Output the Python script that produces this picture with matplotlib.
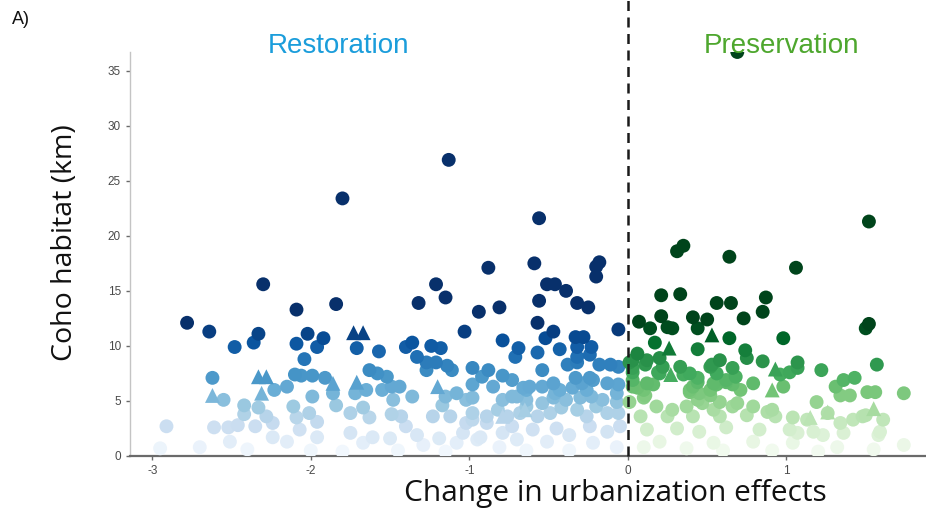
import matplotlib
matplotlib.use("Agg")
import matplotlib.pyplot as plt
import numpy as np
from matplotlib.colors import Normalize

# ---------------- data ----------------
resto_circle_x = [-1.13, -1.80, -0.56, -0.88, -0.59, -0.18, -0.20, -0.20, -2.30, -1.21, -1.15, -0.51, -0.46, -0.39, -0.56, -0.32, -0.25,
    -2.78, -2.64, -2.48, -2.33, -2.36, -2.09, -2.02, -1.92, -1.96, -2.09, -2.04,
    -1.84, -1.32, -0.94, -0.81,
    -1.71, -1.57, -1.40, -1.36, -1.33, -1.24, -1.18, -1.27, -1.27, -1.21, -1.14, -1.11, -1.03, -0.79, -0.69, -0.71,
    -0.98, -0.88, -0.92, -0.98, -0.85, -0.79, -0.73,
    -1.63, -1.58, -1.52, -1.44, -1.86, -1.72, -1.65, -1.55, -1.49, -1.36, -1.48, -1.15, -1.08, -1.02, -0.98, -1.17, -0.79, -0.70, -0.64,
    -1.84, -1.75, -1.67, -1.63, -1.49, -1.43, -1.40, -1.23, -1.12, -0.98, -0.89, -0.68,
    -1.75, -1.61, -1.50, -1.33, -1.19, -1.04, -0.93, -0.79, -0.70, -1.67, -1.29, -1.08,
    -2.62, -2.10, -2.06, -1.99, -1.91, -2.55, -2.23, -2.15, -1.99, -2.11, -2.42, -2.33, -2.42, -2.28, -2.24, -2.91, -2.61, -2.52, -2.46, -2.35, -2.51, -2.95, -2.09, -2.01, -1.96, -2.07, -1.96, -2.15, -2.24,
    -0.57, -0.06, -0.52, -0.47, -0.43, -0.33, -0.28, -0.32, -0.23, -0.57, -0.54, -0.38, -0.32, -0.18, -0.11, -0.06, -0.24, -0.32,
    -0.66, -0.62, -0.54, -0.47, -0.43, -0.33, -0.29, -0.26, -0.22, -0.13, -0.06, -0.35, -0.24, -0.46,
    -0.73, -0.64, -0.54, -0.47, -0.39, -0.30, -0.23, -0.16, -0.07, -0.07,
    -0.98, -0.82, -0.76, -0.64, -0.57, -0.49, -0.42, -0.32, -0.26, -0.20, -0.13, -0.06,
    -1.02, -0.89, -0.73, -0.60, -0.45, -0.37, -0.24, -0.13, -0.05,
    -0.95, -0.51, -0.22, -0.81, -0.07, -0.64, -0.37,
    -2.70, -2.40, -2.00, -1.80, -1.45, -1.15]
resto_circle_y = [26.9, 23.4, 21.6, 17.1, 17.5, 17.6, 17.2, 16.3, 15.6, 15.6, 14.4, 15.6, 15.6, 15.0, 14.1, 13.9, 13.5,
    12.1, 11.3, 9.9, 11.1, 10.3, 13.3, 11.1, 10.7, 9.9, 10.2, 8.8,
    13.8, 13.9, 13.1, 13.5,
    9.8, 9.5, 9.9, 10.3, 9.0, 10.0, 9.8, 8.5, 7.8, 8.5, 8.2, 7.8, 11.3, 10.5, 9.8, 9.0,
    8.0, 7.8, 7.2, 6.5, 6.3, 7.3, 6.9,
    7.8, 7.5, 7.2, 6.3, 5.7, 5.7, 6.0, 6.0, 6.3, 5.4, 5.1, 5.4, 5.7, 5.1, 5.3, 4.6, 5.1, 5.4, 6.0,
    4.6, 3.9, 4.4, 3.5, 3.8, 3.6, 2.7, 3.6, 3.6, 3.3, 3.6, 3.9,
    2.1, 1.7, 1.6, 1.9, 1.6, 2.1, 1.7, 2.1, 1.5, 1.2, 1.0, 1.2,
    7.1, 7.4, 7.3, 7.3, 7.1, 5.1, 6.0, 6.3, 5.4, 4.5, 4.6, 4.4, 3.8, 3.6, 3.0, 2.7, 2.6, 2.6, 2.8, 2.7, 1.3, 0.7, 3.5, 3.9, 3.1, 2.4, 1.7, 1.3, 1.7,
    12.1, 11.5, 10.7, 11.3, 9.7, 10.8, 10.8, 9.9, 9.9, 9.4, 7.8, 8.3, 9.0, 8.3, 8.3, 8.1, 9.2, 8.5,
    6.2, 6.3, 6.3, 6.6, 6.0, 7.1, 6.6, 6.0, 6.9, 6.6, 6.5, 6.2, 7.1, 5.7,
    5.4, 5.1, 4.8, 5.3, 5.1, 5.3, 5.4, 5.1, 5.7, 4.9,
    3.9, 4.2, 3.6, 4.5, 3.6, 3.9, 4.4, 4.2, 3.6, 4.5, 3.9, 3.9,
    3.0, 3.0, 2.7, 2.4, 2.5, 1.9, 2.7, 2.2, 2.7,
    1.5, 1.3, 1.2, 0.8, 0.8, 0.5, 0.5,
    0.8, 0.6, 0.5, 0.4, 0.5, 0.4]

resto_tri_x = [-2.33, -2.28, -2.62, -2.31, -1.73, -1.67, -1.86, -1.71, -1.20, -0.79, -0.65]
resto_tri_y = [7.2, 7.2, 5.5, 5.7, 11.2, 11.2, 6.6, 6.7, 6.3, 3.6, 4.2]

pres_circle_x = [0.69, 1.52, 0.31, 0.35, 0.64, 1.06, 0.21, 0.33, 0.87,
    0.07, 0.14, 0.21, 0.25, 0.28, 0.41, 0.44, 0.50, 0.56, 0.65, 0.73, 0.85, 0.64, 0.98, 1.50, 1.52,
    0.17, 0.06, 0.20, 0.44, 0.74, 0.75, 0.85, 1.07, 1.07, 1.22, 1.57, 0.03, 0.03, 0.11, 0.22, 0.33, 0.20, 0.39, 0.52, 0.56, 0.66, 0.68, 0.96, 1.02,
    0.03, 0.12, 0.44, 0.54, 0.62, 0.79, 1.36, 1.43, 1.31, 1.40, 1.51, 1.56, 1.74, 0.06, 0.11, 0.39, 0.45, 0.52, 0.66, 0.71, 0.98, 1.19, 1.50,
    0.18, 0.28, 0.37, 0.47, 0.54, 0.66, 0.79, 0.91, 1.04, 0.08, 0.25, 0.41, 0.58, 0.75, 1.13, 1.34, 1.42, 1.61, 1.59,
    0.12, 0.31, 0.45, 0.62, 0.83, 1.02, 1.17, 1.36, 0.20, 0.54, 0.79, 1.04, 1.32, 1.74, 0.37, 0.91,
    0.69, 0.88, 0.93, 1.26, 1.48, 1.07, 1.23, 1.58,
    0.01, 0.12, 0.53, 0.58, 0.03, 0.19, 0.35, 0.44, 0.03, 0.10, 0.16, 0.41, 0.56, 0.62, 0.01, 0.10, 0.39, 0.44, 0.52, 0.58, 1.34,
    0.10, 0.60, 1.20, 1.55]
pres_circle_y = [36.7, 21.3, 18.6, 19.1, 18.1, 17.1, 14.6, 14.7, 14.4,
    12.2, 11.6, 12.7, 11.7, 11.6, 12.6, 11.6, 12.4, 13.9, 13.9, 12.5, 13.1, 10.7, 10.7, 11.6, 12.0,
    10.3, 9.3, 8.9, 9.7, 9.6, 8.9, 8.6, 8.5, 8.0, 7.8, 8.3, 8.7, 8.0, 8.3, 8.1, 8.1, 7.5, 7.5, 8.1, 7.5, 8.0, 7.2, 7.4, 7.6,
    6.9, 6.6, 6.7, 6.6, 6.7, 6.6, 6.9, 7.1, 6.3, 5.5, 5.8, 5.8, 5.7, 6.2, 5.5, 6.0, 5.7, 6.0, 6.5, 6.0, 6.3, 4.9, 3.7,
    4.5, 4.2, 4.5, 4.8, 4.2, 4.5, 4.5, 4.2, 3.5, 3.6, 3.6, 3.6, 3.6, 3.7, 3.3, 3.0, 3.3, 3.3, 2.2,
    2.4, 2.5, 2.2, 2.6, 2.4, 2.4, 2.2, 2.1, 1.3, 1.2, 1.3, 1.2, 0.8, 1.0, 0.7, 0.5,
    4.8, 4.0, 3.6, 3.9, 3.6, 2.1, 1.9, 1.9,
    8.5, 8.7, 8.3, 8.7, 7.6, 7.6, 7.4, 7.1, 6.3, 6.0, 6.5, 6.3, 6.5, 6.9, 4.9, 5.3, 5.8, 5.1, 5.5, 4.9, 5.5,
    0.8, 0.5, 0.4, 0.6]

pres_tri_x = [0.53, 0.26, 0.27, 0.93, 0.91, 1.26, 1.55, 1.15]
pres_tri_y = [11.0, 9.8, 7.4, 7.9, 6.0, 4.0, 4.3, 3.5]

x_ticks = [-3, -2, -1, 0, 1]
y_ticks = [0, 5, 10, 15, 20, 25, 30, 35]

# ---------------- figure ----------------
fig = plt.figure(figsize=(9.26, 5.16), dpi=100)
ax = fig.add_axes([130 / 926, 1 - 456 / 516, 1 - 130 / 926, (456 - 52) / 516])

norm = Normalize(vmin=0, vmax=12, clip=True)
ms = 100


def draw(xs, ys, cmap, marker):
    xs = np.asarray(xs, float)
    ys = np.asarray(ys, float)
    order = np.argsort(ys)
    ax.scatter(xs[order], ys[order], c=ys[order], cmap=cmap, norm=norm,
               s=ms * (1.15 if marker == '^' else 1.0), marker=marker,
               linewidths=0, zorder=3)


draw(resto_circle_x, resto_circle_y, 'Blues', 'o')
draw(resto_tri_x, resto_tri_y, 'Blues', '^')
draw(pres_circle_x, pres_circle_y, 'Greens', 'o')
draw(pres_tri_x, pres_tri_y, 'Greens', '^')

ax.set_xlim(-3.14, 1.88)
ax.set_ylim(0, 36.7)
ax.set_xticks(x_ticks)
ax.set_yticks(y_ticks)
ax.set_xticklabels([str(t) for t in x_ticks])
ax.set_yticklabels([str(t) for t in y_ticks])

for side in ['top', 'right']:
    ax.spines[side].set_visible(False)
ax.spines['left'].set_color('#c4c4c4')
ax.spines['left'].set_linewidth(1.0)
ax.spines['bottom'].set_color('#6a6a6a')
ax.spines['bottom'].set_linewidth(1.6)
ax.tick_params(axis='both', labelsize=8.5, labelcolor='#4a4a4a', color='#6a6a6a',
               length=3, width=1)
for lab in ax.get_xticklabels() + ax.get_yticklabels():
    lab.set_family('Liberation Sans')

# dashed vertical line at 0, extending above the plot
ax.axvline(0, ymin=0, ymax=1 + 52 / 404, color='#1a1a1a', linestyle=(0, (4, 2.6)),
           linewidth=1.8, clip_on=False, zorder=5)

# texts
fig.text(338 / 926, 1 - 46 / 516, 'Restoration', color='#1b9ddb', fontsize=20,
         family='Liberation Sans', ha='center', va='center')
fig.text(782 / 926, 1 - 46 / 516, 'Preservation', color='#4ea72e', fontsize=20,
         family='Liberation Sans', ha='center', va='center')
fig.text(12 / 926, 1 - 19 / 516, 'A)', color='#111111', fontsize=13,
         family='Liberation Sans', ha='left', va='center')
fig.text(615 / 926, 1 - 494 / 516, 'Change in urbanization effects', color='#111111',
         fontsize=21.5, family='Open Sans', ha='center', va='center')
fig.text(65 / 926, 1 - 243 / 516, 'Coho habitat (km)', color='#111111',
         fontsize=20.5, family='Open Sans', ha='center', va='center', rotation=90)

fig.savefig('out.png', dpi=100, facecolor='white')
